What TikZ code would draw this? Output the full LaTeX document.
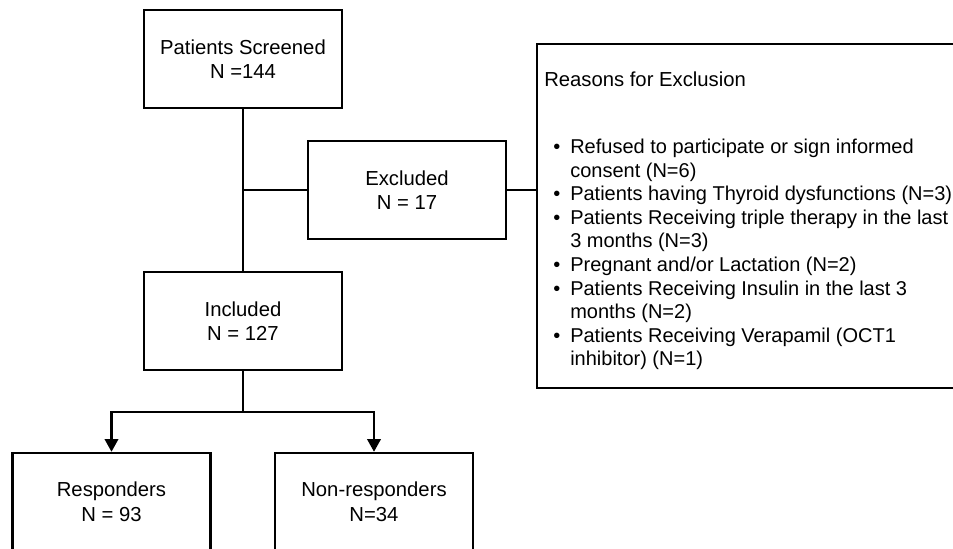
\documentclass[tikz,border=0pt]{standalone}
\usepackage{fontspec}
\setmainfont{Liberation Sans}
\usetikzlibrary{arrows.meta}

\begin{document}
\begin{tikzpicture}[x=0.75pt,y=0.75pt,yscale=-1,xscale=1,
  flowbox/.style={draw, line width=1.8pt, minimum width=148.5pt, minimum height=73.5pt, align=center, inner sep=0.75pt, font=\fontsize{15.2}{18.4}\selectfont},
  flowline/.style={line width=1.8pt},
  flowarrow/.style={line width=1.8pt, -{Triangle[length=9.5pt,width=10pt]}}
]
\useasboundingbox (0,0) rectangle (953,549);

%Shape: Rectangle
\node[flowbox] (screened) at (243,59) {Patients Screened\\N =144};
%Shape: Rectangle
\node[flowbox] (excluded) at (407,190) {Excluded\\N = 17};
%Shape: Rectangle
\node[flowbox] (included) at (243,321) {Included\\N = 127};
%Shape: Rectangle
\node[flowbox] (responders) at (111.5,502) {Responders\\N = 93};
%Shape: Rectangle
\node[flowbox] (nonresponders) at (374,502) {Non-responders\\N=34};
%Shape: Rectangle (runs past the right edge)
\node[draw, line width=1.8pt, anchor=north west, minimum width=330pt, minimum height=258pt, inner sep=0pt] (reasons) at (536,43) {};

% Text Node
\node[anchor=base west, inner sep=0pt, font=\fontsize{15.2}{18}\selectfont] (reasonshead) at (544,87) {Reasons for Exclusion};
% Text Node
\node[anchor=base west, inner sep=0pt, font=\fontsize{15}{17.7}\selectfont] (reasonslist) at (553.2,153.5) {\begin{tabular}[t]{@{}l@{\hspace{7.35pt}}l@{}}
\textbullet & Refused to participate or sign informed\\
 & consent (N=6)\\
\textbullet & Patients having Thyroid dysfunctions (N=3)\\
\textbullet & Patients Receiving triple therapy in the last\\
 & 3 months (N=3)\\
\textbullet & Pregnant and/or Lactation (N=2)\\
\textbullet & Patients Receiving Insulin in the last 3\\
 & months (N=2)\\
\textbullet & Patients Receiving Verapamil (OCT1\\
 & inhibitor) (N=1)
\end{tabular}};

%Straight Lines
\coordinate (exjoin) at (243,190);
\coordinate (split) at (243,412);
\draw[flowline] (screened) -- (included);
\draw[flowline] (exjoin) -- (excluded);
\draw[flowline] (excluded.east) -- (excluded.east -| reasons.west);
\draw[flowline] (included) -- (split);
\draw[flowarrow] (split) -| (responders);
\draw[flowarrow] (split) -| (nonresponders);

\end{tikzpicture}
\end{document}
